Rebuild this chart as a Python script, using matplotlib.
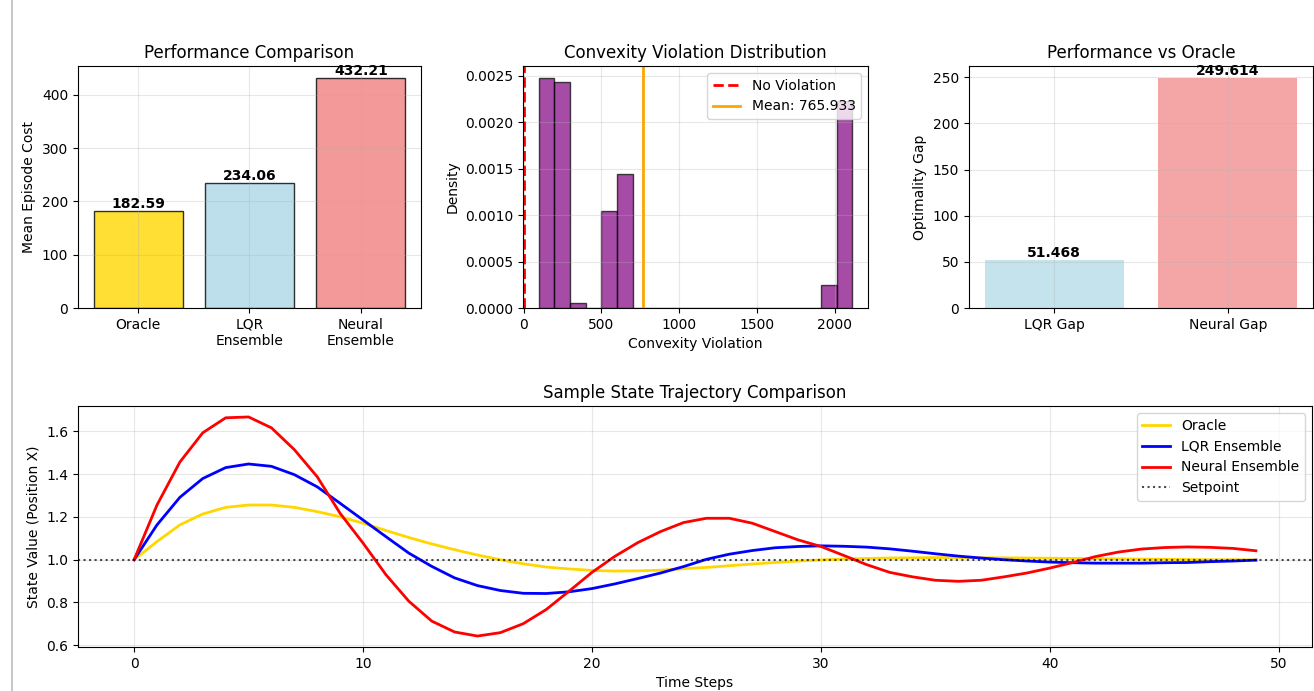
import numpy as np
import matplotlib
matplotlib.use("Agg")
import matplotlib.pyplot as plt
from matplotlib.lines import Line2D

# Performance comparison
methods = ["Oracle", "LQR\nEnsemble", "Neural\nEnsemble"]
mean_costs = [182.59, 234.06, 432.21]
bar_colors = ["gold", "lightblue", "lightcoral"]

# Optimality gap vs oracle
gap_labels = ["LQR Gap", "Neural Gap"]
gap_values = [51.468, 249.614]
gap_colors = ["lightblue", "lightcoral"]

# Convexity violation histogram (counts per bin, 20 bins)
viol_min = 97.0
viol_max = 2112.0
viol_counts = [50, 49, 1, 0, 21, 29, 0, 0, 0, 0, 0, 0, 0, 0, 0, 0, 0, 0, 5, 45]
viol_mean = 765.933

# Sample trajectories
oracle_traj = [1.0, 1.085, 1.163, 1.214, 1.245, 1.256, 1.256, 1.245, 1.225, 1.201,
               1.171, 1.137, 1.104, 1.074, 1.047, 1.022, 1.0, 0.981, 0.966, 0.957,
               0.950, 0.947, 0.948, 0.951, 0.958, 0.964, 0.972, 0.980, 0.987, 0.994,
               0.999, 1.003, 1.006, 1.008, 1.009, 1.010, 1.010, 1.009, 1.009, 1.008,
               1.007, 1.006, 1.005, 1.004, 1.003, 1.002, 1.001, 1.0, 1.0, 0.999]
lqr_traj = [1.0, 1.163, 1.292, 1.380, 1.431, 1.448, 1.437, 1.398, 1.341, 1.264,
            1.186, 1.108, 1.031, 0.969, 0.915, 0.879, 0.856, 0.843, 0.842, 0.850,
            0.865, 0.887, 0.912, 0.938, 0.968, 1.002, 1.026, 1.043, 1.056, 1.062,
            1.065, 1.063, 1.059, 1.051, 1.040, 1.028, 1.017, 1.008, 1.0, 0.994,
            0.989, 0.986, 0.984, 0.984, 0.984, 0.986, 0.987, 0.991, 0.994, 0.998]
neural_traj = [1.0, 1.256, 1.457, 1.594, 1.664, 1.668, 1.617, 1.515, 1.388, 1.217,
               1.078, 0.930, 0.806, 0.713, 0.662, 0.643, 0.659, 0.701, 0.767, 0.853,
               0.941, 1.016, 1.080, 1.132, 1.174, 1.194, 1.194, 1.171, 1.132, 1.093,
               1.062, 1.020, 0.977, 0.941, 0.920, 0.904, 0.899, 0.904, 0.920, 0.938,
               0.961, 0.987, 1.015, 1.036, 1.050, 1.057, 1.060, 1.058, 1.053, 1.042]
setpoint = 1.0

fig = plt.figure(figsize=(13.14, 6.91), dpi=100)
W, H = 1314.0, 691.0

def px_axes(x0, y0, x1, y1):
    return fig.add_axes([x0 / W, 1 - y1 / H, (x1 - x0) / W, (y1 - y0) / H])

# thin gray border line on the left
fig.add_artist(Line2D([12 / W, 12 / W], [0, 1], color="#bbbbbb", lw=1.2))

# Panel 1: mean cost
ax1 = px_axes(78, 66, 421, 308)
bars = ax1.bar(methods, mean_costs, color=bar_colors, alpha=0.8, edgecolor="black")
for b, v in zip(bars, mean_costs):
    ax1.text(b.get_x() + b.get_width() / 2, b.get_height(), f"{v:.2f}",
             ha="center", va="bottom", fontweight="bold")
ax1.set_ylabel("Mean Episode Cost")
ax1.set_title("Performance Comparison")
ax1.grid(True, alpha=0.3)

# Panel 2: convexity violation histogram
ax2 = px_axes(523, 66, 868, 308)
edges = np.linspace(viol_min, viol_max, len(viol_counts) + 1)
centers = (edges[:-1] + edges[1:]) / 2
ax2.hist(centers, bins=edges, weights=viol_counts, density=True,
         color="purple", alpha=0.7, edgecolor="black")
ax2.axvline(0, color="red", linestyle="--", lw=2, label="No Violation")
ax2.axvline(viol_mean, color="orange", lw=2, label=f"Mean: {viol_mean:.3f}")
ax2.set_xlabel("Convexity Violation")
ax2.set_ylabel("Density")
ax2.set_title("Convexity Violation Distribution")
ax2.legend(loc="upper right")
ax2.grid(True, alpha=0.3)

# Panel 3: gap vs oracle
ax3 = px_axes(969, 66, 1313, 308)
bars = ax3.bar(gap_labels, gap_values, color=gap_colors, alpha=0.7)
for b, v in zip(bars, gap_values):
    ax3.text(b.get_x() + b.get_width() / 2, b.get_height(), f"{v:.3f}",
             ha="center", va="bottom", fontweight="bold")
ax3.set_ylabel("Optimality Gap")
ax3.set_title("Performance vs Oracle")
ax3.grid(True, alpha=0.3)

# Panel 4: trajectories
ax4 = px_axes(78, 406, 1312, 647)
steps = np.arange(len(oracle_traj))
ax4.plot(steps, oracle_traj, color="gold", lw=2, label="Oracle")
ax4.plot(steps, lqr_traj, color="blue", lw=2, label="LQR Ensemble")
ax4.plot(steps, neural_traj, color="red", lw=2, label="Neural Ensemble")
ax4.axhline(setpoint, color="black", linestyle=":", alpha=0.7, label="Setpoint")
ax4.set_xlabel("Time Steps")
ax4.set_ylabel("State Value (Position X)")
ax4.set_title("Sample State Trajectory Comparison")
ax4.legend(loc="upper right")
ax4.grid(True, alpha=0.3)

fig.savefig("out.png", dpi=100)
